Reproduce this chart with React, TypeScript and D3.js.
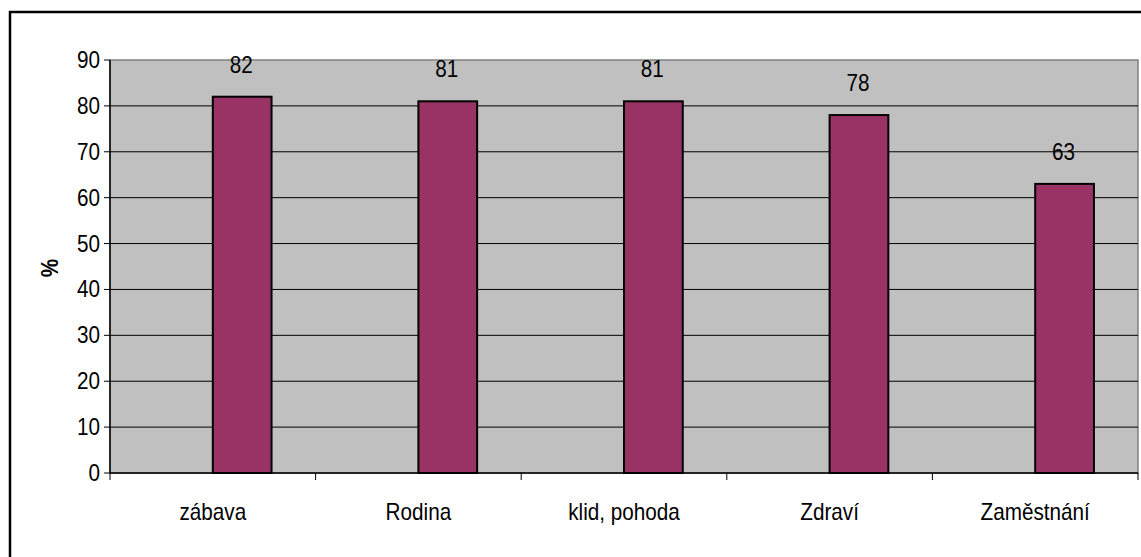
import React from "react";
import * as d3 from "d3";

// Survey results: share of respondents (%) per value category
const categories: string[] = ["zábava", "Rodina", "klid, pohoda", "Zdraví", "Zaměstnání"];
const values: number[] = [82, 81, 81, 78, 63];
const yTicks: number[] = [0, 10, 20, 30, 40, 50, 60, 70, 80, 90];
// Two series slots per category; the first one is empty, the values go in the second
const seriesSlots: string[] = ["empty", "values"];

const W = 1141;
const H = 557;
const plot = { left: 110, top: 60, right: 1138, bottom: 473 };
const FONT = "'Liberation Sans', Arial, sans-serif";
const FS = 23;
const SX = 0.9;

type LabelProps = {
  x: number;
  y: number;
  anchor?: "start" | "middle" | "end";
  bold?: boolean;
  rotate?: number;
  children: React.ReactNode;
};

// Slightly condensed text, as in the original report font
function Label({ x, y, anchor = "middle", bold = false, rotate = 0, children }: LabelProps) {
  return (
    <g transform={`translate(${x},${y}) rotate(${rotate}) scale(${SX},1)`}>
      <text textAnchor={anchor} fontSize={FS} fontWeight={bold ? "bold" : "normal"} fill="#000">
        {children}
      </text>
    </g>
  );
}

export default function App() {
  const x = d3.scaleBand<string>().domain(categories).range([plot.left, plot.right]).padding(0);
  const inner = d3
    .scaleBand<string>()
    .domain(seriesSlots)
    .range([0, x.bandwidth()])
    .paddingInner(0)
    .paddingOuter(0.75);
  const y = d3.scaleLinear().domain([0, 90]).range([plot.bottom, plot.top]);

  const boundaries = [...categories.map((c) => x(c) as number), plot.right];

  return (
    <div style={{ position: "fixed", left: 0, top: 0 }}>
      <svg width={W} height={H} style={{ display: "block", background: "#fff" }} fontFamily={FONT}>
        {/* chart frame */}
        <rect x={10} y={12} width={1200} height={700} fill="#fff" stroke="#000" strokeWidth={2.5} />

        {/* plot area */}
        <rect
          x={plot.left}
          y={plot.top}
          width={plot.right - plot.left}
          height={plot.bottom - plot.top}
          fill="#C0C0C0"
          stroke="#808080"
          strokeWidth={1.5}
        />

        {/* gridlines */}
        {yTicks
          .filter((t) => t > 0 && t < 90)
          .map((t) => (
            <line key={`g${t}`} x1={plot.left} x2={plot.right} y1={y(t)} y2={y(t)} stroke="#000" strokeWidth={1} />
          ))}

        {/* bars */}
        {categories.map((c, i) => {
          const bx = (x(c) as number) + (inner("values") as number);
          return (
            <rect
              key={c}
              x={bx}
              y={y(values[i])}
              width={inner.bandwidth()}
              height={y(0) - y(values[i])}
              fill="#993366"
              stroke="#000"
              strokeWidth={2}
            />
          );
        })}

        {/* value labels */}
        {categories.map((c, i) => {
          const cx = (x(c) as number) + (inner("values") as number) + inner.bandwidth() / 2;
          return (
            <Label key={`v${c}`} x={cx - 1} y={y(values[i]) - 24}>
              {values[i]}
            </Label>
          );
        })}

        {/* y axis */}
        <line x1={plot.left} x2={plot.left} y1={plot.top} y2={plot.bottom} stroke="#000" strokeWidth={1.5} />
        {yTicks.map((t) => (
          <g key={`t${t}`}>
            <line x1={plot.left - 6} x2={plot.left} y1={y(t)} y2={y(t)} stroke="#000" strokeWidth={1} />
            <Label x={plot.left - 10} y={y(t) + 8} anchor="end">
              {t}
            </Label>
          </g>
        ))}
        <Label x={58} y={268} rotate={-90} bold>
          %
        </Label>

        {/* x axis */}
        <line x1={plot.left} x2={plot.right} y1={plot.bottom} y2={plot.bottom} stroke="#000" strokeWidth={1.5} />
        {boundaries.map((bx, i) => (
          <line key={`xt${i}`} x1={bx} x2={bx} y1={plot.bottom} y2={plot.bottom + 7} stroke="#000" strokeWidth={1} />
        ))}
        {categories.map((c) => (
          <Label key={`l${c}`} x={(x(c) as number) + x.bandwidth() / 2} y={520}>
            {c}
          </Label>
        ))}
      </svg>
    </div>
  );
}
